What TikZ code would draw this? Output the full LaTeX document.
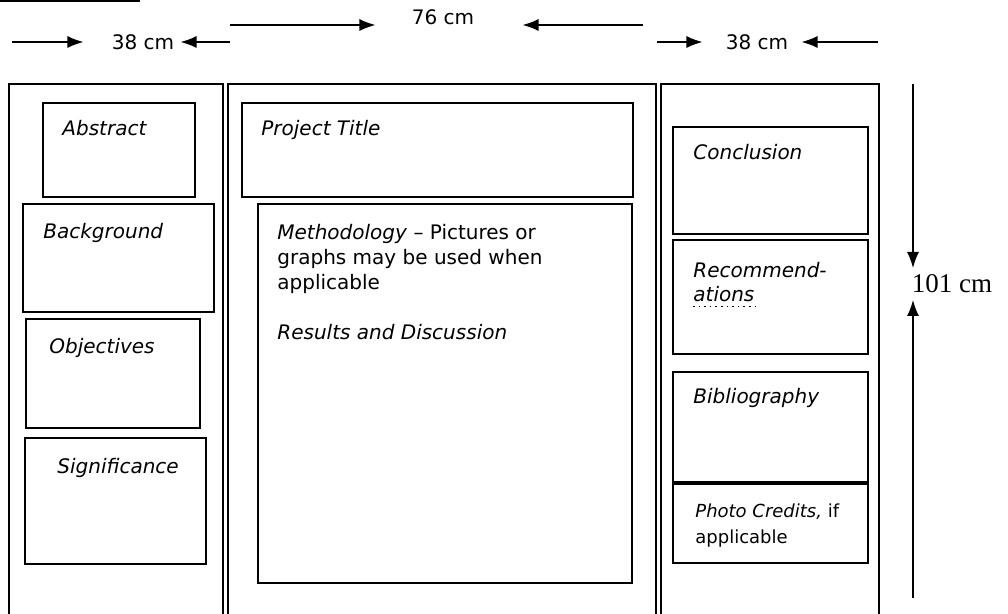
\documentclass[tikz,border=0pt]{standalone}
\usepackage{fontspec}
\newfontfamily\boxfont{DejaVu Sans}
\newfontfamily\dimfont{Liberation Serif}
\usetikzlibrary{arrows.meta}

\tikzset{
    column/.style={line width=1pt},
    part/.style={draw, line width=1pt},
    lbl/.style={anchor=base west, inner sep=0pt, font=\boxfont\fontsize{10}{12.5}\selectfont\itshape},
    dim/.style={inner sep=0pt, font=\boxfont\fontsize{10}{12.5}\selectfont},
    dimarrow/.style={-{Latex[length=8pt,width=6pt]}, line width=0.7pt},
}

\begin{document}
\begin{tikzpicture}[x=0.5pt, y=-0.5pt]
        \useasboundingbox (0,0) rectangle (1008,614);
        \draw[line width=1.5pt] (0,1) -- (140,1);

        % Widths
        \node[dim] (w38l) at (143,42) {38 cm};
        \coordinate (w38la) at (12,42);
        \coordinate (w38lb) at (230,42);
        \draw[dimarrow, shorten >=14pt] (w38la) -- (w38l.west);
        \draw[dimarrow, shorten >=3pt] (w38lb) -- (w38l.east);

        \node[dim] (w76) at (443,17) {76 cm};
        \coordinate (w76a) at (230,25);
        \coordinate (w76b) at (643,25);
        \draw[dimarrow, shorten >=18pt] (w76a) -- (w76a -| w76.west);
        \draw[dimarrow, shorten >=24pt] (w76b) -- (w76b -| w76.east);

        \node[dim] (w38r) at (757,42) {38 cm};
        \coordinate (w38ra) at (657,42);
        \coordinate (w38rb) at (878,42);
        \draw[dimarrow, shorten >=11.5pt] (w38ra) -- (w38r.west);
        \draw[dimarrow, shorten >=6.5pt] (w38rb) -- (w38r.east);

        % Height
        \node[inner sep=0pt, font=\dimfont\fontsize{13.5}{16}\selectfont] (h101) at (952,284) {101 cm};
        \coordinate (h101a) at (913,84);
        \coordinate (h101b) at (913,598);
        \draw[dimarrow] (h101a) -- (h101a |- 0,268);
        \draw[dimarrow] (h101b) -- (h101b |- 0,300);

        % Columns
        \draw[column] (9,620) -- (9,84) -- (223,84) -- (223,620);
        \draw[column] (228,620) -- (228,84) -- (656,84) -- (656,620);
        \draw[column] (661,620) -- (661,84) -- (879,84) -- (879,620);

        % Left column
        \draw[part] (43,103) rectangle (195,197);
        \draw[part] (23,204) rectangle (214,312);
        \draw[part] (26,319) rectangle (200,428);
        \draw[part] (25,438) rectangle (206,564);
        \node[lbl] (abs) at (62,136) {Abstract};
        \node[lbl] (bg) at (43,239) {Background};
        \node[lbl] (obj) at (49,354) {Objectives};
        \node[lbl] (sig) at (57,474) {Significance};

        % Middle column
        \draw[part] (242,103) rectangle (633,197);
        \draw[part] (258,204) rectangle (632,583);
        \node[lbl] (title) at (261,136) {Project Title};
        \node[lbl, align=left, anchor=north west, font=\boxfont\fontsize{10}{12.5}\selectfont] (meth) at (277,224)
            {\textit{Methodology} – Pictures or\\graphs may be used when\\applicable\\[12.5pt]\textit{Results and Discussion}};

        % Right column
        \draw[part] (673,127) rectangle (868,234);
        \draw[part] (673,240) rectangle (868,354);
        \draw[part] (673,372) rectangle (868,483);
        \draw[part] (673,483) rectangle (868,563);
        \draw[line width=2pt] (673,483) -- (868,483);
        \node[lbl] (conc) at (693,160) {Conclusion};
        \node[lbl] (rec) at (693,278) {Recommend-};
        \node[lbl] (recb) at (693,302) {ations};
        \draw[dotted, line width=0.8pt] (recb.south west) ++(0,4) -- ++(64,0);
        \node[lbl] (bib) at (693,404) {Bibliography};
        \node[lbl, font=\boxfont\fontsize{9}{11}\selectfont\itshape] (photo) at (695,518) {Photo Credits, \upshape if};
        \node[lbl, font=\boxfont\fontsize{9}{11}\selectfont] (photob) at (695,544) {applicable};
\end{tikzpicture}
\end{document}
